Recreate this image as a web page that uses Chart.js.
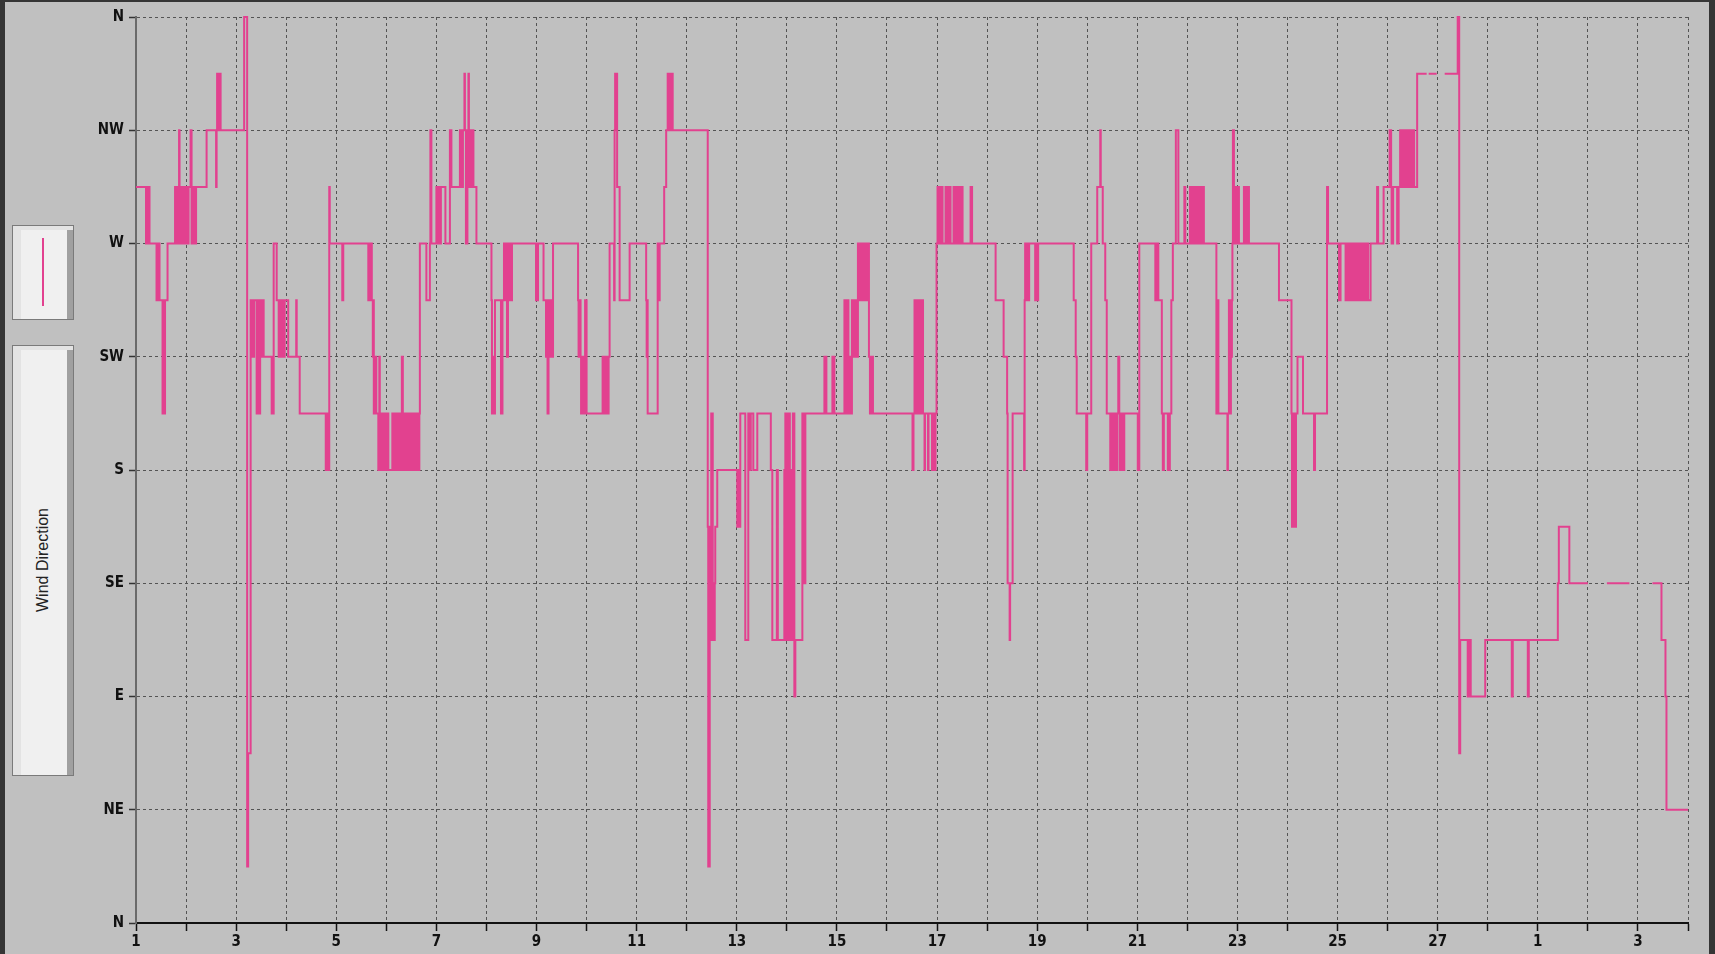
<!DOCTYPE html>
<html>
<head>
<meta charset="utf-8">
<script src="https://cdn.jsdelivr.net/npm/chart.js@4.4.1/dist/chart.umd.min.js"></script>
<style>
  html, body { margin: 0; padding: 0; width: 1715px; height: 954px; overflow: hidden; background: #353535; }
  #panel { position: absolute; left: 5px; top: 2px; width: 1704px; height: 952px; background: #c0c0c0; }
  .side { position: absolute; left: 12px; width: 62px; box-sizing: border-box; border: 1px solid #7a7a7a;
          background: #f0f0f0; box-shadow: inset 8px 4px 0 #e3e3e3, inset -6px 0 0 #a0a0a0; }
  #legendBox { top: 225px; height: 95px; }
  #titleBox { top: 345px; height: 431px; }
  #legendLine { position: absolute; left: 42px; top: 238px; width: 2px; height: 68px; background: #e2418f; }
  #axisTitle { position: absolute; left: 43px; top: 560px; transform: translate(-50%, -50%) rotate(-90deg);
               font: 16px "Liberation Sans", Arial, sans-serif; color: #222; white-space: nowrap; }
  #chart { position: absolute; left: 0; top: 0; }
</style>
</head>
<body>
<div id="panel"></div>
<div class="side" id="legendBox"></div>
<div id="legendLine"></div>
<div class="side" id="titleBox"></div>
<div id="axisTitle">Wind Direction</div>
<canvas id="chart" width="1715" height="954"></canvas>
<script>
// compass points -> degrees (N at the top of the plot is 360)
const compassNames = ["NNE", "NE", "ENE", "E", "ESE", "SE", "SSE", "S", "SSW", "SW", "WSW", "W", "WNW", "NW", "NNW", "N"];
const compassDegrees = [22.5, 45, 67.5, 90, 112.5, 135, 157.5, 180, 202.5, 225, 247.5, 270, 292.5, 315, 337.5, 360];

const yTickLabels = ["N", "NE", "E", "SE", "S", "SW", "W", "NW", "N"];
const xTickLabels = ["1", "", "3", "", "5", "", "7", "", "9", "", "11", "", "13", "", "15", "", "17", "", "19", "", "21", "",
  "23", "", "25", "", "27", "", "1", "", "3", ""];

// readings: days since the 1st of the month, and the direction from then on
const daysFeb1to6 = [
  0.00, 0.20, 0.21, 0.22, 0.23, 0.24, 0.25, 0.27, 0.41, 0.42,
  0.43, 0.44, 0.45, 0.46, 0.47, 0.53, 0.54, 0.55, 0.56, 0.57,
  0.58, 0.63, 0.78, 0.79, 0.80, 0.81, 0.82, 0.83, 0.84, 0.86,
  0.87, 0.88, 0.89, 0.90, 0.91, 0.92, 0.93, 0.94, 0.95, 0.97,
  0.98, 1.02, 1.05, 1.09, 1.11, 1.12, 1.13, 1.14, 1.15, 1.16,
  1.17, 1.18, 1.19, 1.20, 1.41, 1.60, 1.61, 1.62, 1.63, 1.64,
  1.65, 1.66, 1.67, 1.68, 1.69, 2.16, 2.22, 2.24, 2.29, 2.30,
  2.31, 2.32, 2.33, 2.34, 2.36, 2.41, 2.42, 2.43, 2.45, 2.47,
  2.48, 2.49, 2.50, 2.51, 2.52, 2.53, 2.54, 2.55, 2.71, 2.75,
  2.81, 2.85, 2.86, 2.87, 2.88, 2.89, 2.90, 2.91, 2.92, 2.93,
  2.94, 2.95, 2.97, 3.04, 3.20, 3.21, 3.27, 3.79, 3.80, 3.81,
  3.82, 3.83, 3.84, 3.85, 3.86, 3.87, 4.12, 4.14, 4.64, 4.65,
  4.66, 4.67, 4.68, 4.70, 4.71, 4.73, 4.74, 4.75, 4.76, 4.77,
  4.79, 4.80, 4.84, 4.85, 4.86, 4.87, 4.88, 4.89, 4.92, 4.93,
  4.96, 4.97, 4.98, 4.99, 5.00, 5.01, 5.02, 5.03, 5.04, 5.12,
  5.13, 5.14, 5.15, 5.16, 5.17, 5.18, 5.19, 5.20, 5.21, 5.22,
  5.25, 5.26, 5.27, 5.28, 5.29, 5.30, 5.31, 5.33, 5.34, 5.35,
  5.36, 5.37, 5.38, 5.39, 5.40, 5.41, 5.44, 5.45, 5.46, 5.47,
  5.51, 5.52, 5.55, 5.56, 5.57, 5.58, 5.59, 5.60, 5.61, 5.62,
  5.63, 5.64, 5.65, 5.66
];
const dirsFeb1to6 = [
  "WNW", "W", "WNW", "W", "WNW", "W", "WNW", "W", "WSW", "W",
  "WSW", "W", "WSW", "W", "WSW", "SSW", "SW", "SSW", "WSW", "SSW",
  "WSW", "W", "WNW", "W", "WNW", "W", "WNW", "W", "WNW", "NW",
  "WNW", "W", "WNW", "W", "WNW", "W", "WNW", "W", "WNW", "W",
  "WNW", "W", "WNW", "NW", "W", "WNW", "W", "WNW", "W", "WNW",
  "W", "WNW", "W", "WNW", "NW", "WNW", "NW", "NNW", "NW", "NNW",
  "NW", "NNW", "NW", "NNW", "NW", "N", "NNE", "ENE", "WSW", "SW",
  "WSW", "SW", "WSW", "SW", "WSW", "SSW", "SW", "SSW", "WSW", "SSW",
  "WSW", "SW", "WSW", "SW", "WSW", "SW", "WSW", "SW", "SSW", "W",
  "WSW", "SW", "WSW", "SW", "WSW", "SW", "WSW", "SW", "WSW", "SW",
  "WSW", "SW", "WSW", "SW", "WSW", "SW", "SSW", "S", "SSW", "S",
  "SSW", "S", "SSW", "S", "WNW", "W", "WSW", "W", "WSW", "W",
  "WSW", "W", "WSW", "W", "WSW", "SW", "WSW", "SSW", "SW", "SSW",
  "SW", "SSW", "S", "SSW", "SW", "SSW", "S", "SSW", "S", "SSW",
  "S", "SSW", "S", "SSW", "S", "SSW", "S", "SSW", "S", "SSW",
  "S", "SSW", "S", "SSW", "S", "SSW", "S", "SSW", "S", "SSW",
  "S", "SSW", "S", "SSW", "S", "SSW", "SW", "SSW", "S", "SSW",
  "S", "SSW", "S", "SSW", "S", "SSW", "S", "SSW", "S", "SSW",
  "S", "SSW", "S", "SSW", "S", "SSW", "S", "SSW", "S", "SSW",
  "S", "SSW", "S", "SSW"
];

const daysFeb6to12 = [
  5.67, 5.80, 5.87, 5.88, 5.90, 6.00, 6.02, 6.03, 6.05, 6.06,
  6.08, 6.09, 6.18, 6.27, 6.30, 6.47, 6.48, 6.49, 6.50, 6.51,
  6.52, 6.53, 6.56, 6.57, 6.59, 6.62, 6.64, 6.65, 6.66, 6.67,
  6.68, 6.69, 6.70, 6.71, 6.72, 6.73, 6.74, 6.80, 7.10, 7.11,
  7.12, 7.13, 7.14, 7.15, 7.17, 7.29, 7.32, 7.35, 7.36, 7.37,
  7.38, 7.39, 7.40, 7.41, 7.43, 7.44, 7.45, 7.46, 7.47, 7.48,
  7.49, 7.50, 7.51, 7.99, 8.00, 8.01, 8.03, 8.14, 8.19, 8.20,
  8.21, 8.22, 8.24, 8.25, 8.26, 8.27, 8.28, 8.29, 8.31, 8.33,
  8.83, 8.84, 8.85, 8.86, 8.87, 8.88, 8.89, 8.91, 8.93, 8.97,
  8.98, 8.99, 9.00, 9.32, 9.33, 9.34, 9.35, 9.36, 9.37, 9.38,
  9.39, 9.40, 9.41, 9.42, 9.43, 9.44, 9.46, 9.55, 9.56, 9.57,
  9.58, 9.59, 9.61, 9.66, 9.86, 10.19, 10.20, 10.21, 10.22, 10.42,
  10.43, 10.44, 10.45, 10.46, 10.55, 10.59, 10.62, 10.63, 10.64, 10.65,
  10.66, 10.67, 10.68, 10.70, 10.71, 10.72
];
const dirsFeb6to12 = [
  "W", "WSW", "W", "NW", "W", "WNW", "W", "WNW", "W", "WNW",
  "W", "WNW", "W", "NW", "WNW", "NW", "WNW", "NW", "WNW", "NW",
  "WNW", "NW", "NNW", "NW", "W", "NW", "NNW", "NW", "WNW", "NW",
  "WNW", "NW", "WNW", "NW", "WNW", "NW", "WNW", "W", "WSW", "SSW",
  "SW", "SSW", "SW", "SSW", "WSW", "SSW", "WSW", "W", "WSW", "W",
  "WSW", "W", "WSW", "SW", "W", "WSW", "W", "WSW", "W", "WSW",
  "W", "WSW", "W", "WSW", "W", "WSW", "W", "WSW", "SW", "WSW",
  "SW", "SSW", "SW", "WSW", "SW", "WSW", "SW", "WSW", "SW", "W",
  "WSW", "SW", "WSW", "SW", "WSW", "SW", "SSW", "SW", "SSW", "WSW",
  "SSW", "WSW", "SSW", "SW", "SSW", "SW", "SSW", "SW", "SSW", "SW",
  "SSW", "SW", "SSW", "SW", "SSW", "SW", "W", "WSW", "NW", "NNW",
  "NW", "NNW", "WNW", "WSW", "W", "WSW", "SW", "WSW", "SSW", "W",
  "WSW", "W", "WSW", "W", "WNW", "NW", "NNW", "NW", "NNW", "NW",
  "NNW", "NW", "NNW", "NW", "NNW", "NW"
];

const daysFeb12to16 = [
  11.42, 11.43, 11.44, 11.45, 11.46, 11.47, 11.48, 11.49, 11.50, 11.51,
  11.52, 11.53, 11.54, 11.55, 11.56, 11.57, 11.61, 12.01, 12.02, 12.03,
  12.04, 12.05, 12.07, 12.17, 12.23, 12.27, 12.28, 12.33, 12.41, 12.68,
  12.71, 12.80, 12.82, 12.95, 12.96, 12.97, 12.98, 12.99, 13.00, 13.01,
  13.02, 13.03, 13.04, 13.05, 13.06, 13.07, 13.08, 13.09, 13.10, 13.12,
  13.15, 13.17, 13.31, 13.33, 13.37, 13.75, 13.79, 13.91, 13.95, 14.15,
  14.17, 14.21, 14.23, 14.25, 14.27, 14.30, 14.32, 14.35, 14.38, 14.42,
  14.43, 14.44, 14.45, 14.46, 14.47, 14.48, 14.49, 14.50, 14.51, 14.52,
  14.53, 14.54, 14.56, 14.58, 14.60, 14.62, 14.64, 14.66, 14.67, 14.69,
  14.70, 14.72, 15.51, 15.53, 15.55, 15.56, 15.57, 15.58, 15.59, 15.60,
  15.61, 15.62, 15.63, 15.64, 15.65, 15.66, 15.67, 15.68, 15.70, 15.72,
  15.75, 15.76, 15.82, 15.83, 15.90, 15.91, 15.92, 15.93, 15.94, 15.95,
  15.96, 15.97
];
const dirsFeb12to16 = [
  "SSE", "NNE", "SSE", "NNE", "SE", "ESE", "SE", "SSW", "ESE", "SSW",
  "SE", "ESE", "SE", "ESE", "SE", "SSE", "S", "SSE", "S", "SSE",
  "S", "SSE", "SSW", "ESE", "SSW", "S", "SSW", "S", "SSW", "S",
  "ESE", "S", "ESE", "S", "ESE", "SSW", "ESE", "S", "ESE", "SSW",
  "ESE", "S", "ESE", "SSW", "ESE", "S", "ESE", "S", "ESE", "SSW",
  "E", "ESE", "SSW", "SE", "SSW", "SW", "SSW", "SW", "SSW", "WSW",
  "SSW", "WSW", "SSW", "SW", "SSW", "WSW", "SW", "WSW", "SW", "W",
  "WSW", "W", "WSW", "W", "WSW", "W", "WSW", "W", "WSW", "W",
  "WSW", "W", "WSW", "W", "WSW", "W", "SW", "SSW", "SW", "SSW",
  "SW", "SSW", "S", "SSW", "WSW", "SSW", "WSW", "SSW", "WSW", "SSW",
  "WSW", "SSW", "WSW", "SSW", "WSW", "SSW", "WSW", "SSW", "WSW", "SSW",
  "S", "SSW", "S", "SSW", "S", "SSW", "S", "SSW", "S", "SSW",
  "S", "SSW"
];

const daysFeb16to22 = [
  15.99, 16.01, 16.02, 16.03, 16.04, 16.05, 16.06, 16.07, 16.08, 16.09,
  16.11, 16.17, 16.18, 16.19, 16.20, 16.21, 16.22, 16.23, 16.24, 16.25,
  16.27, 16.33, 16.34, 16.35, 16.36, 16.37, 16.38, 16.39, 16.40, 16.41,
  16.42, 16.43, 16.44, 16.45, 16.46, 16.47, 16.48, 16.49, 16.51, 16.67,
  16.70, 17.17, 17.33, 17.40, 17.41, 17.45, 17.46, 17.51, 17.74, 17.75,
  17.76, 17.77, 17.78, 17.79, 17.80, 17.81, 17.82, 17.83, 17.84, 17.96,
  17.97, 17.98, 17.99, 18.00, 18.02, 18.73, 18.77, 18.79, 18.98, 19.00,
  19.08, 19.20, 19.26, 19.27, 19.31, 19.36, 19.39, 19.46, 19.47, 19.48,
  19.49, 19.50, 19.51, 19.52, 19.53, 19.55, 19.56, 19.57, 19.58, 19.59,
  19.60, 19.62, 19.64, 19.65, 19.66, 19.67, 19.68, 19.69, 19.70, 19.71,
  19.72, 19.73, 19.74, 20.01, 20.04, 20.36, 20.37, 20.38, 20.39, 20.40,
  20.41, 20.42, 20.49, 20.51, 20.53, 20.61, 20.62, 20.63, 20.65, 20.68,
  20.71, 20.77, 20.82, 20.94, 20.96, 21.05, 21.06, 21.07, 21.08, 21.10,
  21.12, 21.13, 21.14, 21.15, 21.16, 21.17, 21.18, 21.19, 21.20, 21.21,
  21.22, 21.23, 21.24, 21.25, 21.26, 21.27, 21.28, 21.29, 21.30, 21.31,
  21.33
];
const dirsFeb16to22 = [
  "W", "WNW", "W", "WNW", "W", "WNW", "W", "WNW", "W", "WNW",
  "W", "WNW", "W", "WNW", "W", "WNW", "W", "WNW", "W", "WNW",
  "W", "WNW", "W", "WNW", "W", "WNW", "W", "WNW", "W", "WNW",
  "W", "WNW", "W", "WNW", "W", "WNW", "W", "WNW", "W", "WNW",
  "W", "WSW", "SW", "SSW", "SE", "ESE", "SE", "SSW", "S", "WSW",
  "W", "WSW", "W", "WSW", "W", "WSW", "W", "WSW", "W", "WSW",
  "W", "WSW", "W", "WSW", "W", "WSW", "SW", "SSW", "S", "SSW",
  "W", "WNW", "NW", "WNW", "W", "WSW", "SSW", "S", "SSW", "S",
  "SSW", "S", "SSW", "S", "SSW", "S", "SSW", "S", "SSW", "S",
  "SSW", "SW", "SSW", "S", "SSW", "S", "SSW", "S", "SSW", "S",
  "SSW", "S", "SSW", "S", "W", "WSW", "W", "WSW", "W", "WSW",
  "W", "WSW", "SSW", "S", "SSW", "S", "SSW", "S", "SSW", "WSW",
  "W", "NW", "W", "WNW", "W", "WNW", "W", "WNW", "W", "WNW",
  "W", "WNW", "W", "WNW", "W", "WNW", "W", "WNW", "W", "WNW",
  "W", "WNW", "W", "WNW", "W", "WNW", "W", "WNW", "W", "WNW",
  "W"
];

const daysFeb22to27 = [
  21.58, 21.59, 21.60, 21.61, 21.62, 21.80, 21.81, 21.83, 21.84, 21.85,
  21.86, 21.87, 21.88, 21.89, 21.90, 21.91, 21.93, 21.94, 21.95, 21.96,
  21.97, 21.98, 21.99, 22.00, 22.01, 22.03, 22.13, 22.14, 22.15, 22.16,
  22.17, 22.18, 22.19, 22.20, 22.21, 22.23, 22.83, 23.08, 23.09, 23.10,
  23.11, 23.12, 23.13, 23.14, 23.15, 23.17, 23.20, 23.31, 23.53, 23.55,
  23.79, 23.81, 24.03, 24.06, 24.16, 24.18, 24.20, 24.21, 24.22, 24.23,
  24.24, 24.25, 24.26, 24.27, 24.28, 24.29, 24.30, 24.31, 24.32, 24.33,
  24.34, 24.35, 24.36, 24.37, 24.38, 24.39, 24.40, 24.41, 24.42, 24.43,
  24.44, 24.45, 24.46, 24.47, 24.48, 24.49, 24.50, 24.52, 24.53, 24.55,
  24.56, 24.58, 24.59, 24.60, 24.61, 24.66, 24.79, 24.81, 24.92, 25.04,
  25.07, 25.08, 25.11, 25.19, 25.22, 25.25, 25.26, 25.27, 25.28, 25.29,
  25.30, 25.31, 25.32, 25.33, 25.35, 25.36, 25.37, 25.38, 25.39, 25.40,
  25.41, 25.42, 25.43, 25.44, 25.45, 25.46, 25.47, 25.48, 25.49, 25.50,
  25.51, 25.52, 25.53, 25.59, 25.78, 25.79, 25.82, 25.98, 25.99, 26.14,
  26.40, 26.43
];
const dirsFeb22to27 = [
  "SSW", "WSW", "SSW", "WSW", "SSW", "S", "SSW", "WSW", "SW", "WSW",
  "SSW", "WSW", "SW", "WSW", "W", "NW", "WNW", "W", "WNW", "W",
  "WNW", "W", "WNW", "W", "WNW", "W", "WNW", "W", "WNW", "W",
  "WNW", "W", "WNW", "W", "WNW", "W", "WSW", "SSW", "SSE", "SSW",
  "SSE", "SSW", "SSE", "SSW", "SSE", "SSW", "SW", "SSW", "S", "SSW",
  "WNW", "W", "WSW", "W", "WSW", "W", "WSW", "W", "WSW", "W",
  "WSW", "W", "WSW", "W", "WSW", "W", "WSW", "W", "WSW", "W",
  "WSW", "W", "WSW", "W", "WSW", "W", "WSW", "W", "WSW", "W",
  "WSW", "W", "WSW", "W", "WSW", "W", "WSW", "W", "WSW", "W",
  "WSW", "W", "WSW", "W", "WSW", "W", "WNW", "W", "WNW", "NW",
  "WNW", "W", "WNW", "W", "WNW", "NW", "WNW", "NW", "WNW", "NW",
  "WNW", "NW", "WNW", "NW", "WNW", "NW", "WNW", "NW", "WNW", "NW",
  "WNW", "NW", "WNW", "NW", "WNW", "NW", "WNW", "NW", "WNW", "NW",
  "WNW", "NW", "WNW", "NNW", "NNW", null, "NNW", "NNW", null, "NNW",
  "N", "ENE"
];

const daysFeb27toMar4 = [
  26.45, 26.60, 26.61, 26.62, 26.63, 26.64, 26.65, 26.66, 26.95, 27.48,
  27.50, 27.80, 27.82, 28.40, 28.42, 28.63, 29.00, 29.01, 29.38, 29.83,
  29.84, 30.29, 30.47, 30.55, 30.57, 31.00
];
const dirsFeb27toMar4 = [
  "ESE", "E", "ESE", "E", "ESE", "E", "ESE", "E", "ESE", "E",
  "ESE", "E", "ESE", "SE", "SSE", "SE", "SE", null, "SE", "SE",
  null, "SE", "ESE", "E", "NE", "NE"
];

const readingDays = [].concat(daysFeb1to6, daysFeb6to12, daysFeb12to16, daysFeb16to22, daysFeb22to27, daysFeb27toMar4);
const readingDirs = [].concat(dirsFeb1to6, dirsFeb6to12, dirsFeb12to16, dirsFeb16to22, dirsFeb22to27, dirsFeb27toMar4);

const points = readingDays.map((d, i) => ({
  x: d,
  y: readingDirs[i] === null ? null : compassDegrees[compassNames.indexOf(readingDirs[i])]
}));

const tickFont = { family: "'Liberation Sans Narrow', 'DejaVu Sans Condensed', sans-serif", size: 15, weight: "bold" };

new Chart(document.getElementById("chart"), {
  type: "line",
  data: {
    datasets: [{
      label: "Wind Direction",
      data: points,
      borderColor: "#e2418f",
      borderWidth: 2,
      pointRadius: 0,
      stepped: true,
      spanGaps: false,
      fill: false,
      clip: false
    }]
  },
  options: {
    responsive: false,
    animation: false,
    events: [],
    layout: { padding: { left: 76, right: 27, top: 17, bottom: 3 } },
    plugins: { legend: { display: false }, tooltip: { enabled: false } },
    scales: {
      x: {
        type: "linear",
        min: 0,
        max: 31,
        afterFit: s => { s.height = 28; },
        ticks: { stepSize: 1, autoSkip: false, maxRotation: 0, padding: 2, color: "#111", font: tickFont,
                 callback: v => xTickLabels[v] },
        grid: { color: "#545454", lineWidth: 1, tickLength: 8, tickColor: "#111", tickWidth: 1.5 },
        border: { color: "#111", width: 2, dash: [3, 3] }
      },
      y: {
        min: 0,
        max: 360,
        afterFit: s => { s.width = 60; },
        ticks: { stepSize: 45, padding: 5, color: "#111", font: tickFont,
                 callback: v => yTickLabels[v / 45] },
        grid: { color: "#545454", lineWidth: 1, tickLength: 7, tickColor: "#333", tickWidth: 1.5 },
        border: { color: "#6a6a6a", width: 2, dash: [3, 3] }
      }
    }
  }
});
</script>
</body>
</html>
